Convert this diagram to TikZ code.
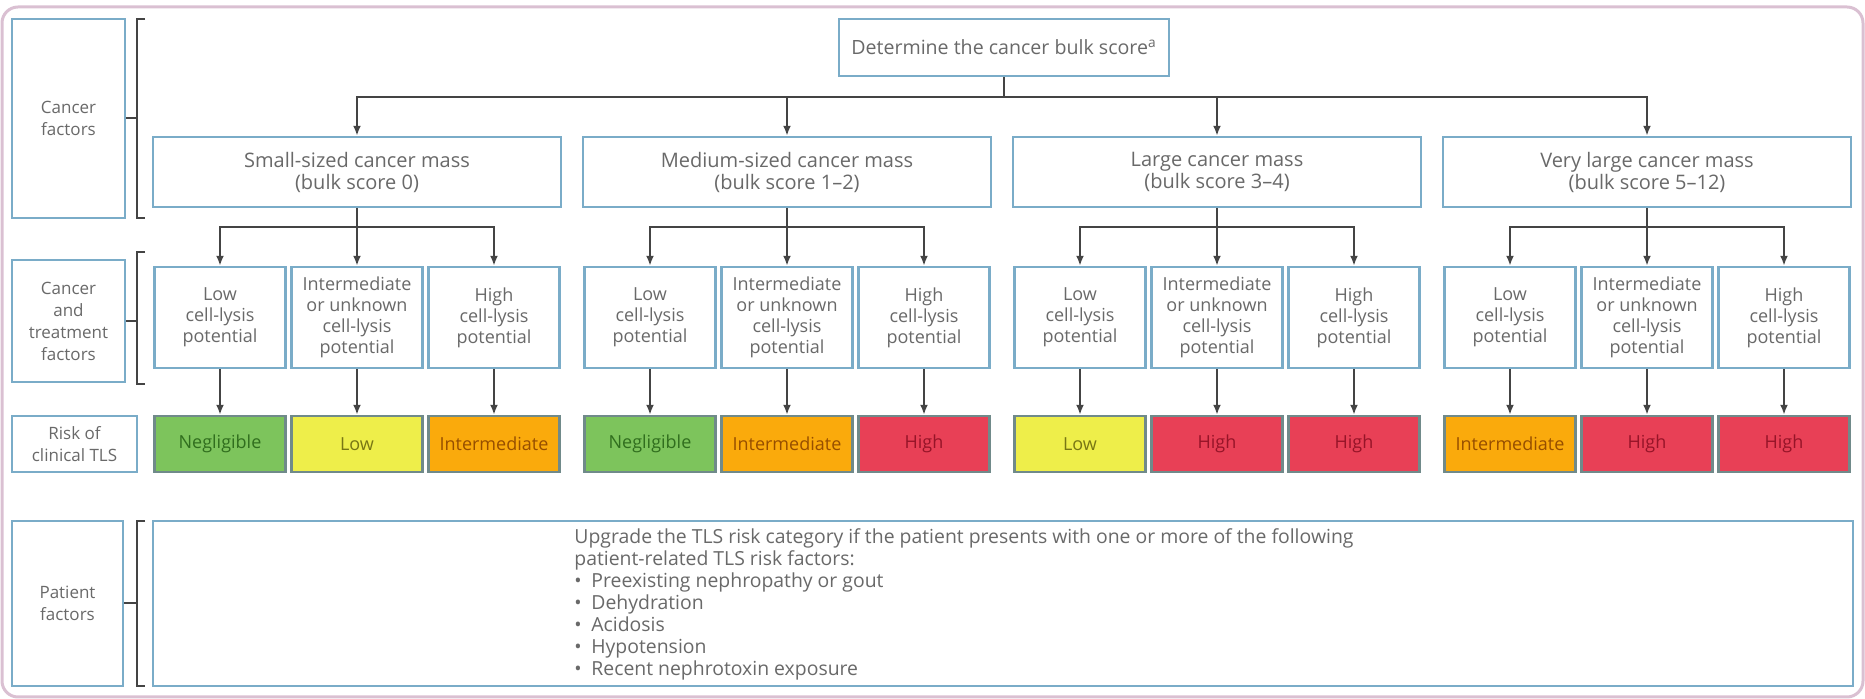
\documentclass[tikz,border=0pt]{standalone}
\usepackage{fontspec}
\setmainfont{Open Sans}
\usetikzlibrary{arrows.meta}
\definecolor{boxblue}{RGB}{122,172,200}
\definecolor{txtgray}{RGB}{105,105,105}
\definecolor{linegray}{RGB}{68,68,68}
\definecolor{framepink}{RGB}{218,192,210}
\definecolor{riskedge}{RGB}{112,138,138}
\definecolor{fillN}{RGB}{125,196,92}
\definecolor{fillL}{RGB}{238,238,74}
\definecolor{fillI}{RGB}{250,170,12}
\definecolor{fillH}{RGB}{232,64,86}
\definecolor{textN}{RGB}{48,110,30}
\definecolor{textL}{RGB}{120,118,20}
\definecolor{textI}{RGB}{150,78,0}
\definecolor{textH}{RGB}{150,20,40}
\tikzset{
  txt/.style={ text=txtgray, font=\fontsize{8.5}{11}\selectfont, inner sep=0pt }
}
\tikzset{
  lblbox/.style={ txt, draw=boxblue, line width=1.2pt, fill=white, align=center }
}
\tikzset{
  grpbox/.style={ lblbox, font=\fontsize{10}{11}\selectfont, minimum width=204pt, minimum height=35pt }
}
\tikzset{
  subbox/.style={ lblbox, font=\fontsize{9}{10.5}\selectfont, minimum width=65.5pt, minimum height=50.5pt }
}
\tikzset{
  riskbox/.style={ draw=riskedge, line width=1.2pt, fill=fill#1, text=text#1, font=\fontsize{9}{11}\selectfont, minimum width=65.5pt, minimum height=28pt, inner sep=0pt }
}
\tikzset{
  conn/.style={ draw=linegray, line width=1pt },
  arr/.style={ conn, -{Latex[length=5pt, width=4pt]} }
}

\begin{document}
\begin{tikzpicture}[x=0.5pt, y=-0.5pt]
  \useasboundingbox (0,0) rectangle (1865,699);
  \draw[framepink, line width=1.5pt, rounded corners=8pt] (2,7) rectangle (1863,697);

  % row labels and their brackets
  \node[lblbox, minimum width=56.5pt, minimum height=99.5pt] (cf) at (68.5,118.5) {Cancer\\factors};
  \node[lblbox, minimum width=56.5pt, minimum height=61pt] (ctf) at (68.5,321) {Cancer\\and\\treatment\\factors};
  \node[lblbox, minimum width=62.5pt, minimum height=28pt] (rsk) at (74.5,444) {Risk of\\clinical TLS};
  \node[lblbox, minimum width=55.5pt, minimum height=82.5pt] (pf) at (67.5,603.5) {Patient\\factors};

  \draw[conn] (145,19) -- (137,19) -- (137,218) -- (145,218);
  \draw[conn] (145,252) -- (137,252) -- (137,384) -- (145,384);
  \draw[conn] (145,521) -- (137,521) -- (137,686) -- (145,686);
  \coordinate (k1) at (137,118.5);
  \coordinate (k2) at (137,321);
  \coordinate (k3) at (137,603.5);
  \draw[conn] (cf) -- (k1);
  \draw[conn] (ctf) -- (k2);
  \draw[conn] (pf) -- (k3);

  % bulk score
  \node[lblbox, font=\fontsize{9.8}{11}\selectfont, minimum width=165pt, minimum height=28.5pt] (top) at (1004,47.5) {Determine the cancer bulk score\textsuperscript{a}};
  \coordinate (hub) at (1004,97);
  \draw[conn] (top) -- (hub);

  \node[grpbox] (g1) at (357,172) {Small-sized cancer mass\\(bulk score 0)};
  \node[grpbox] (g2) at (787,172) {Medium-sized cancer mass\\(bulk score 1--2)};
  \node[grpbox] (g3) at (1217,172) {Large cancer mass\\(bulk score 3--4)};
  \node[grpbox] (g4) at (1647,172) {Very large cancer mass\\(bulk score 5--12)};
  \draw[arr] (hub) -| (g1);
  \draw[arr] (hub) -| (g2);
  \draw[arr] (hub) -| (g3);
  \draw[arr] (hub) -| (g4);

  % cell-lysis potential
  \foreach \g/\c in {1/357, 2/787, 3/1217, 4/1647} {
    \coordinate (h\g) at (\c,227);
    \draw[conn] (g\g) -- (h\g);
    \node[subbox] (s\g-a) at (\c-137,317.5) {Low\\cell-lysis\\potential};
    \node[subbox] (s\g-b) at (\c,317.5) {Intermediate\\or unknown\\cell-lysis\\potential};
    \node[subbox] (s\g-c) at (\c+137,317.5) {High\\cell-lysis\\potential};
    \draw[arr] (h\g) -| (s\g-a);
    \draw[arr] (h\g) -- (s\g-b);
    \draw[arr] (h\g) -| (s\g-c);
  }

  % risk of clinical TLS
  \node[riskbox=N] (r1-a) at (220,444) {Negligible};
  \node[riskbox=L] (r1-b) at (357,444) {Low};
  \node[riskbox=I] (r1-c) at (494,444) {Intermediate};
  \node[riskbox=N] (r2-a) at (650,444) {Negligible};
  \node[riskbox=I] (r2-b) at (787,444) {Intermediate};
  \node[riskbox=H] (r2-c) at (924,444) {High};
  \node[riskbox=L] (r3-a) at (1080,444) {Low};
  \node[riskbox=H] (r3-b) at (1217,444) {High};
  \node[riskbox=H] (r3-c) at (1354,444) {High};
  \node[riskbox=I] (r4-a) at (1510,444) {Intermediate};
  \node[riskbox=H] (r4-b) at (1647,444) {High};
  \node[riskbox=H] (r4-c) at (1784,444) {High};
  \foreach \g in {1,...,4}
    \foreach \k in {a,b,c}
      \draw[arr] (s\g-\k) -- (r\g-\k);

  % patient factors
  \node[lblbox, minimum width=850pt, minimum height=82.5pt] (pbox) at (1003,603.5) {};
  \node[txt, font=\fontsize{9.7}{11}\selectfont, anchor=north west, align=left] (plist) at (574,528) {Upgrade the TLS risk category if the patient presents with one or more of the following\\
    patient-related TLS risk factors:\\
    \makebox[8.5pt][l]{\textbullet}Preexisting nephropathy or gout\\
    \makebox[8.5pt][l]{\textbullet}Dehydration\\
    \makebox[8.5pt][l]{\textbullet}Acidosis\\
    \makebox[8.5pt][l]{\textbullet}Hypotension\\
    \makebox[8.5pt][l]{\textbullet}Recent nephrotoxin exposure};
\end{tikzpicture}
\end{document}
